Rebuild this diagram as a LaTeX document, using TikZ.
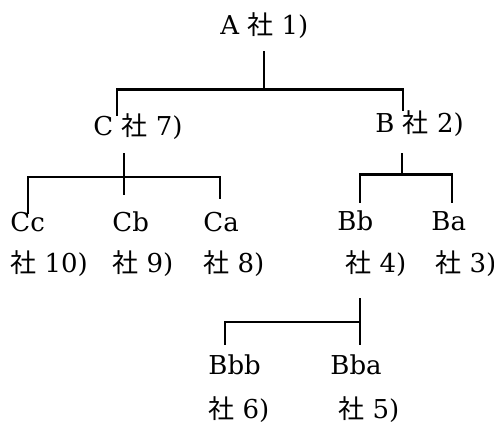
\documentclass[tikz,border=0pt]{standalone}
\usepackage{fontspec}
\setmainfont{DejaVu Serif}
\newfontfamily\jp{Noto Sans CJK JP}
\newcommand{\SHA}{{\jp 社}}

\begin{document}
\begin{tikzpicture}[x=0.5pt,y=-0.5pt,
	firm/.style={inner sep=0pt,anchor=base west,font=\fontsize{13}{15}\selectfont},
	link/.style={line width=1.1pt}]
	\useasboundingbox (0,0) rectangle (494,423);
	% companies
	\node[firm] (a) at (220,34) {A \SHA\ 1)};
	\node[firm] (c) at (93,135) {C \SHA\ 7)};
	\node[firm] (b) at (375,133) {B \SHA\ 2)};
	\node[firm] (cc) at (10,231) {Cc};
	\node[firm] (cb) at (112,231) {Cb};
	\node[firm] (ca) at (203,231) {Ca};
	\node[firm] (bb) at (337,230) {Bb};
	\node[firm] (ba) at (431,230) {Ba};
	\node[firm] (ccn) at (10,272) {\SHA\ 10)};
	\node[firm] (cbn) at (112,272) {\SHA\ 9)};
	\node[firm] (can) at (203,272) {\SHA\ 8)};
	\node[firm] (bbn) at (345,272) {\SHA\ 4)};
	\node[firm] (ban) at (435,272) {\SHA\ 3)};
	\node[firm] (bbb) at (208,374) {Bbb};
	\node[firm] (bba) at (330,374) {Bba};
	\node[firm] (bbbn) at (208,418) {\SHA\ 6)};
	\node[firm] (bban) at (338,418) {\SHA\ 5)};
	% drop ends above each company
	\path (c.north west) ++(24,3) coordinate (c-in)
		(b.north west) ++(28,0) coordinate (b-in)
		(cc.north west) ++(18,3) coordinate (cc-in)
		(cb.north west) ++(12,-16) coordinate (cb-in)
		(ca.north west) ++(17,-12) coordinate (ca-in)
		(bb.north west) ++(23,-7) coordinate (bb-in)
		(ba.north west) ++(21,-8) coordinate (ba-in)
		(bbb.north west) ++(17,-9) coordinate (bbb-in)
		(bba.north west) ++(30,-9) coordinate (bba-in);
	% A
	\draw[link] (a.south) ++(0,13) -- ++(0,38) coordinate (a-fork);
	\draw[link] (c-in) |- (a-fork) -| (b-in);
	% C
	\draw[link] (c.south west) ++(31,14) coordinate (c-out) -- (c-out |- cb-in);
	\draw[link] (cc-in) |- (c-out |- 0,177) -| (ca-in);
	% B
	\draw[link] (b.south west) ++(27,16) -- ++(0,21) coordinate (b-fork);
	\draw[link] (bb-in) |- (b-fork) -| (ba-in);
	% Bb
	\draw[link] (bbn.south west) ++(15,22) coordinate (bb-out) -- (bb-out |- bba-in);
	\draw[link] (bbb-in) |- (bb-out |- 0,322);
\end{tikzpicture}
\end{document}
